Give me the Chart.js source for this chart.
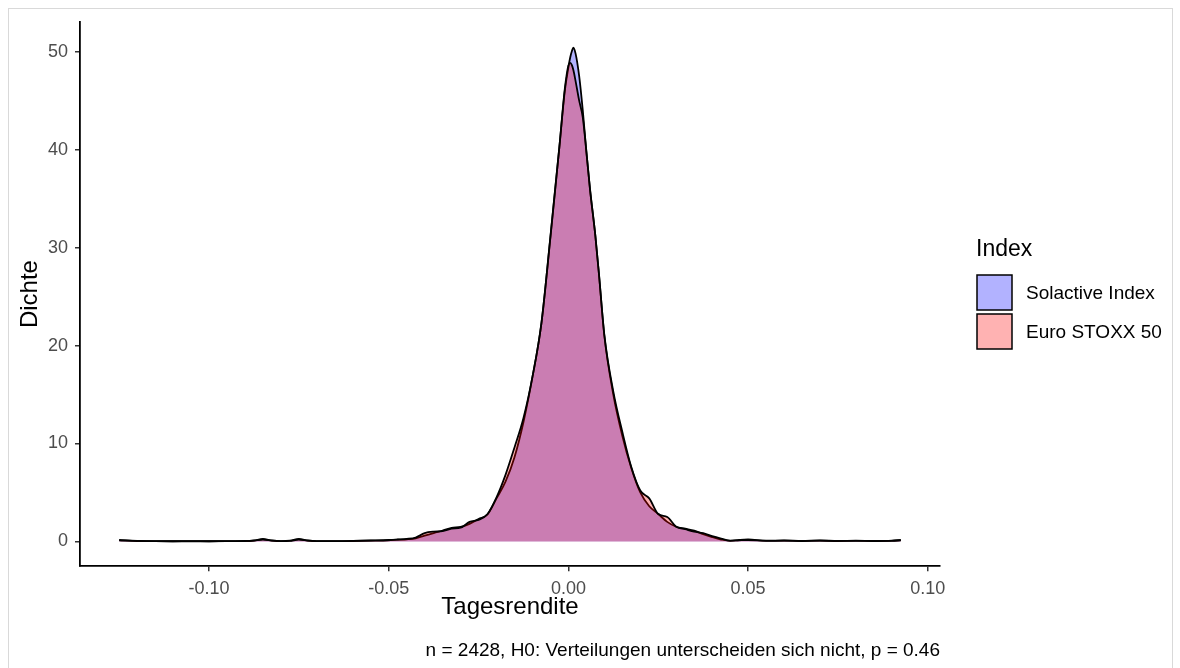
<!DOCTYPE html>
<html>
<head>
<meta charset="utf-8">
<script src="https://cdn.jsdelivr.net/npm/chart.js@4.4.1/dist/chart.umd.min.js"></script>
<style>
  html, body { margin: 0; padding: 0; background: #fff; }
  #wrap { position: relative; width: 1180px; height: 668px; overflow: hidden; }
  #frame { position: absolute; left: 8px; top: 8px; width: 1163px; height: 700px; border: 1px solid #d9d9d9; pointer-events: none; }
</style>
</head>
<body>
<div id="wrap">
  <canvas id="chart" width="1180" height="668"></canvas>
  <div id="frame"></div>
</div>
<script>
// Tagesrendite grid and density values
const returns = [
  -0.125, -0.12, -0.115, -0.11, -0.105, -0.1, -0.095, -0.09, -0.0875, -0.085,
  -0.0825, -0.08, -0.0775, -0.075, -0.0725, -0.07, -0.065, -0.06, -0.055, -0.05,
  -0.0475, -0.045, -0.0425, -0.04, -0.0375, -0.035, -0.0325, -0.03, -0.0275, -0.025,
  -0.0225, -0.02, -0.0175, -0.015, -0.0125, -0.01, -0.0075, -0.005, -0.0025, -0.001,
  0, 0.0005, 0.001, 0.0014, 0.002, 0.003, 0.004, 0.005, 0.006, 0.0075,
  0.0085, 0.01, 0.0125, 0.015, 0.0175, 0.02, 0.0225, 0.025, 0.0275, 0.03,
  0.0325, 0.035, 0.0375, 0.04, 0.0425, 0.045, 0.0475, 0.05, 0.055, 0.06,
  0.065, 0.07, 0.075, 0.08, 0.085, 0.09, 0.0925
];
const solactive = [
  0.15, 0.05, 0.03, 0.02, 0.02, 0.02, 0.03, 0.04, 0.1, 0.25,
  0.1, 0.04, 0.08, 0.25, 0.1, 0.04, 0.03, 0.05, 0.08, 0.12,
  0.18, 0.22, 0.32, 0.6, 0.85, 1.12, 1.38, 1.5, 1.8, 2.3,
  2.75, 4.4, 6.1, 8.6, 12.2, 16.8, 22.3, 31.1, 40.3, 46,
  48.4, 49.4, 50.1, 50.4, 49.8, 47.5, 44, 39.8, 36, 31.2,
  27.3, 21, 15, 10.8, 7.5, 5.0, 3.6, 2.8, 2.0, 1.5,
  1.3, 1.1, 0.75, 0.45, 0.2, 0.06, 0.15, 0.2, 0.08, 0.1,
  0.06, 0.1, 0.05, 0.08, 0.05, 0.08, 0.15
];
const euroStoxx = [
  0.12, 0.06, 0.03, 0.02, 0.03, 0.02, 0.03, 0.05, 0.08, 0.18,
  0.08, 0.04, 0.06, 0.18, 0.08, 0.04, 0.04, 0.06, 0.1, 0.15,
  0.2, 0.26, 0.4, 0.85, 1.0, 1.05, 1.3, 1.4, 2.0, 2.2,
  2.8, 4.5, 6.8, 9.6, 12.6, 16.8, 22.3, 31.1, 40.3, 46.2,
  48.6, 48.85, 48.6, 48.1, 47.0, 45.0, 43.3, 39.8, 36, 31.2,
  27.3, 21.1, 15.3, 11.2, 7.6, 5.2, 4.4, 2.8, 2.5, 1.5,
  1.25, 1.0, 0.85, 0.55, 0.3, 0.08, 0.12, 0.15, 0.06, 0.08,
  0.05, 0.08, 0.06, 0.06, 0.05, 0.06, 0.12
];
const seriesNames = ["Solactive Index", "Euro STOXX 50"];
const xTicks = [-0.10, -0.05, 0, 0.05, 0.10];
const yTicks = [0, 10, 20, 30, 40, 50];
const caption = "n = 2428, H0: Verteilungen unterscheiden sich nicht, p = 0.46";

const FONT = "'Liberation Sans', Arial, sans-serif";
const toPoints = (vals) => returns.map((x, i) => ({ x, y: vals[i] }));

// legend drawn like ggplot's fill legend
const ggLegend = {
  id: "ggLegend",
  afterDraw(chart) {
    const ctx = chart.ctx;
    ctx.save();
    ctx.fillStyle = "#000";
    ctx.font = "23px " + FONT;
    ctx.textBaseline = "middle";
    ctx.fillText("Index", 976, 250);
    chart.data.datasets.forEach((ds, i) => {
      const top = 275 + i * 39;
      ctx.fillStyle = "#fff";
      ctx.fillRect(977, top, 35, 35);
      ctx.fillStyle = ds.backgroundColor;
      ctx.fillRect(977, top, 35, 35);
      ctx.lineWidth = 1.5;
      ctx.strokeStyle = "#000";
      ctx.strokeRect(977, top, 35, 35);
      ctx.fillStyle = "#000";
      ctx.font = "19px " + FONT;
      ctx.fillText(ds.label, 1026, top + 18.5);
    });
    ctx.restore();
  },
};

new Chart(document.getElementById("chart"), {
  type: "line",
  data: {
    datasets: [
      {
        label: seriesNames[0],
        data: toPoints(solactive),
        borderColor: "#000",
        borderWidth: 1.8,
        backgroundColor: "rgba(0,0,255,0.3)",
        fill: "origin",
        pointRadius: 0,
        cubicInterpolationMode: "monotone",
        order: 2,
      },
      {
        label: seriesNames[1],
        data: toPoints(euroStoxx),
        borderColor: "#000",
        borderWidth: 1.8,
        backgroundColor: "rgba(255,0,0,0.3)",
        fill: "origin",
        pointRadius: 0,
        cubicInterpolationMode: "monotone",
        order: 1,
      },
    ],
  },
  options: {
    responsive: false,
    animation: false,
    devicePixelRatio: 1,
    layout: { padding: { top: 22, right: 240, left: 0, bottom: 0 } },
    plugins: {
      legend: { display: false },
      tooltip: { enabled: false },
      subtitle: {
        display: true,
        text: caption,
        position: "bottom",
        align: "end",
        fullSize: false,
        color: "#000",
        font: { family: FONT, size: 19, weight: "normal" },
        padding: { top: 0, bottom: 6 },
      },
    },
    scales: {
      x: {
        type: "linear",
        min: -0.1359,
        max: 0.1034,
        afterBuildTicks: (s) => { s.ticks = xTicks.map((v) => ({ value: v })); },
        afterFit: (s) => { s.height = 73; },
        ticks: {
          color: "#4d4d4d",
          font: { family: FONT, size: 18 },
          padding: 7,
          maxRotation: 0,
          callback: (v) => Number(v).toFixed(2),
        },
        grid: { drawOnChartArea: false, drawTicks: true, tickLength: 5, color: "#333", lineWidth: 1.5 },
        border: { display: true, color: "#000", width: 1.8 },
        title: {
          display: true,
          text: "Tagesrendite",
          color: "#000",
          font: { family: FONT, size: 24 },
          padding: { top: 0, bottom: 17 },
        },
      },
      y: {
        min: -2.525,
        max: 53.03,
        afterBuildTicks: (s) => { s.ticks = yTicks.map((v) => ({ value: v })); },
        afterFit: (s) => { s.width = 80; },
        ticks: {
          color: "#4d4d4d",
          font: { family: FONT, size: 18 },
          padding: 7,
        },
        grid: { drawOnChartArea: false, drawTicks: true, tickLength: 5, color: "#333", lineWidth: 1.5 },
        border: { display: true, color: "#000", width: 1.8 },
        title: {
          display: true,
          text: "Dichte",
          color: "#000",
          font: { family: FONT, size: 24 },
          padding: { top: 16, bottom: 0 },
        },
      },
    },
  },
  plugins: [ggLegend],
});
</script>
</body>
</html>
